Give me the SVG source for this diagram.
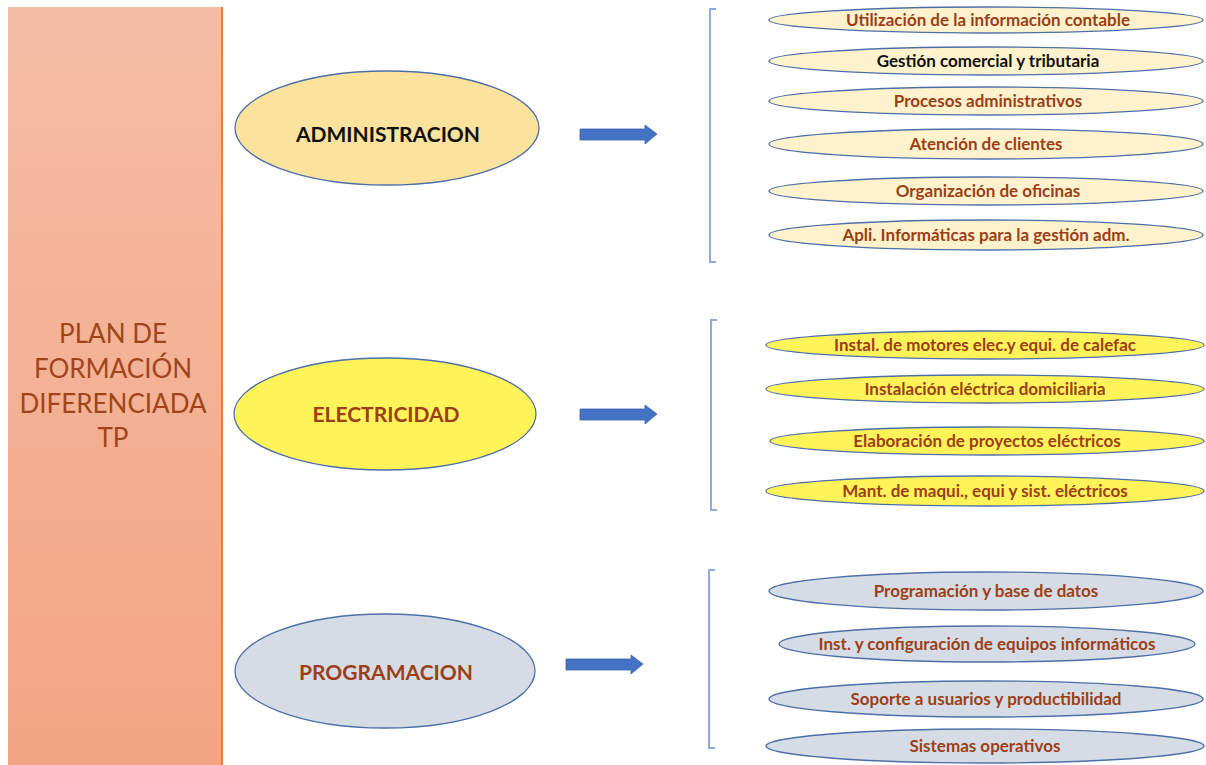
<svg xmlns="http://www.w3.org/2000/svg" width="1206" height="765" viewBox="0 0 1206 765">
<defs>
<linearGradient id="lg" x1="0" y1="0" x2="0" y2="1">
<stop offset="0" stop-color="#F5BDA6"/>
<stop offset="1" stop-color="#F3A583"/>
</linearGradient>
<style>
.main{font-family:Lato,"Liberation Sans",sans-serif;font-size:26px;fill:#A0451B;text-anchor:middle}
.cat{font-family:Lato,"Liberation Sans",sans-serif;font-size:21px;font-weight:bold;text-anchor:middle}
.item{font-family:Lato,"Liberation Sans",sans-serif;font-size:17px;font-weight:bold;fill:#9C3F17;text-anchor:middle}
.el{stroke:#4D6FA8;stroke-width:1.3}
.adm{fill:#FFF2CC}
.ele{fill:#FFF35A}
.prg{fill:#D6DCE5}
.br{fill:none;stroke:#8FAADC;stroke-width:2}
.arr{fill:#4472C4;stroke:#3A64B0;stroke-width:0.8}
</style>
</defs>
<rect width="1206" height="765" fill="#FFFFFF"/>
<g id="plan">
<rect x="8" y="7" width="214" height="758" fill="url(#lg)"/>
<line x1="222" y1="7" x2="222" y2="765" stroke="#ED7D31" stroke-width="2"/>
<text class="main" x="113" y="343">PLAN DE</text>
<text class="main" x="113" y="378">FORMACIÓN</text>
<text class="main" x="113" y="413">DIFERENCIADA</text>
<text class="main" x="113" y="447">TP</text>
</g>
<g id="administracion">
<ellipse class="el" cx="387" cy="128" rx="152" ry="57" fill="#FBE29D"/>
<text class="cat" x="388" y="142" fill="#111111">ADMINISTRACION</text>
</g>
<g id="electricidad">
<ellipse class="el" cx="385" cy="414" rx="151" ry="56" fill="#FFF35A"/>
<text class="cat" x="386" y="422" fill="#9C3F17">ELECTRICIDAD</text>
</g>
<g id="programacion">
<ellipse class="el" cx="385" cy="671" rx="150" ry="57" fill="#D6DCE5"/>
<text class="cat" x="386" y="680" fill="#9C3F17">PROGRAMACION</text>
</g>
<g id="connectors">
<polygon class="arr" points="580,129 645,129 645,125 657,134 645,144 645,140 580,140"/>
<polygon class="arr" points="580,409 645,409 645,405 657,414 645,424 645,420 580,420"/>
<polygon class="arr" points="566,659 631,659 631,655 643,664 631,674 631,670 566,670"/>
<path class="br" d="M716,9 H710 V262 H716"/>
<path class="br" d="M717,320 H711 V510 H717"/>
<path class="br" d="M715,570 H709 V748 H715"/>
</g>
<g id="adm-items">
<g id="adm1"><ellipse class="el adm" cx="986" cy="20" rx="217" ry="13"/><text class="item" x="988" y="26">Utilización de la información contable</text></g>
<g id="adm2"><ellipse class="el adm" cx="986" cy="61" rx="217" ry="14"/><text class="item" x="988" y="67" style="fill:#111111">Gestión comercial y tributaria</text></g>
<g id="adm3"><ellipse class="el adm" cx="986" cy="101" rx="217" ry="14"/><text class="item" x="988" y="107">Procesos administrativos</text></g>
<g id="adm4"><ellipse class="el adm" cx="986" cy="144" rx="217" ry="15"/><text class="item" x="986" y="150">Atención de clientes</text></g>
<g id="adm5"><ellipse class="el adm" cx="986" cy="191" rx="217" ry="14"/><text class="item" x="988" y="197">Organización de oficinas</text></g>
<g id="adm6"><ellipse class="el adm" cx="986" cy="235" rx="217" ry="15"/><text class="item" x="986" y="241">Apli. Informáticas para la gestión adm.</text></g>
</g>
<g id="ele-items">
<g id="ele1"><ellipse class="el ele" cx="985" cy="345" rx="219" ry="14"/><text class="item" x="985" y="351">Instal. de motores elec.y equi. de calefac</text></g>
<g id="ele2"><ellipse class="el ele" cx="985" cy="389" rx="219" ry="14"/><text class="item" x="985" y="395">Instalación eléctrica domiciliaria</text></g>
<g id="ele3"><ellipse class="el ele" cx="987" cy="441" rx="217" ry="14"/><text class="item" x="987" y="447">Elaboración de proyectos eléctricos</text></g>
<g id="ele4"><ellipse class="el ele" cx="985" cy="491" rx="219" ry="15"/><text class="item" x="985" y="497">Mant. de maqui., equi y sist. eléctricos</text></g>
</g>
<g id="prg-items">
<g id="prg1"><ellipse class="el prg" cx="986" cy="591" rx="217" ry="19"/><text class="item" x="986" y="597">Programación y base de datos</text></g>
<g id="prg2"><ellipse class="el prg" cx="987" cy="644" rx="208" ry="18"/><text class="item" x="987" y="650">Inst. y configuración  de equipos informáticos</text></g>
<g id="prg3"><ellipse class="el prg" cx="986" cy="699" rx="217" ry="18"/><text class="item" x="986" y="705">Soporte a usuarios y productibilidad</text></g>
<g id="prg4"><ellipse class="el prg" cx="985" cy="746" rx="219" ry="17"/><text class="item" x="985" y="752">Sistemas operativos</text></g>
</g>
</svg>
